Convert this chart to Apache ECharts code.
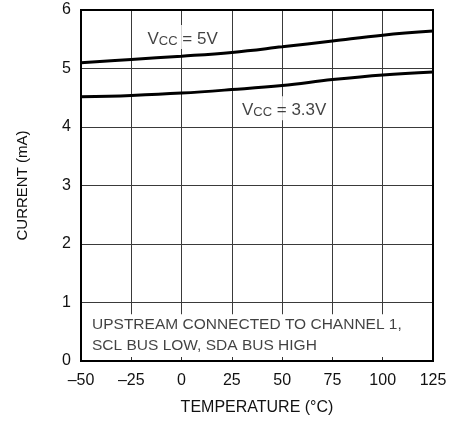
<!DOCTYPE html>
<html><head><meta charset="utf-8">
<script src="https://cdn.jsdelivr.net/npm/echarts@6/dist/echarts.min.js"></script>
<style>html,body{margin:0;padding:0;background:#fff}#c{width:462px;height:425px}</style>
</head><body><div id="c"></div>
<script>
const temps = [-50, -25, 0, 25, 50, 75, 100, 125];
const i5v = [5.10, 5.155, 5.21, 5.275, 5.37, 5.47, 5.57, 5.64];
const i33v = [4.515, 4.54, 4.58, 4.64, 4.71, 4.81, 4.89, 4.94];
const xTicks = ['–50', '–25', '0', '25', '50', '75', '100', '125'];
const yTicks = ['0', '1', '2', '3', '4', '5', '6'];
const label5 = { x: 0.5, y: 5.54, text: '{v|V}{s|CC}{v| = 5V}' };
const label33 = { x: 51, y: 4.32, text: '{v|V}{s|CC}{v| = 3.3V}' };
const noteLines = ['UPSTREAM CONNECTED TO CHANNEL 1,', 'SCL BUS LOW, SDA BUS HIGH'];
const noteBand = [0.07, 0.8];

const FONT = '"Liberation Sans Narrow", "Liberation Sans", Arial, sans-serif';
const rich = {
  v: { fontSize: 17, lineHeight: 22, verticalAlign: 'bottom', fontFamily: FONT, color: '#111' },
  s: { fontSize: 13, lineHeight: 14, verticalAlign: 'bottom', fontFamily: FONT, color: '#111' }
};
function pairs(xs, ys) { return xs.map((x, i) => [x, ys[i]]); }

const chart = echarts.init(document.getElementById('c'));
chart.setOption({
  animation: false,
  grid: { left: 81, right: 29, top: 10, bottom: 64, show: true, borderColor: '#000', borderWidth: 2, z: 3 },
  xAxis: {
    type: 'value', min: -50, max: 125, interval: 25,
    name: 'TEMPERATURE (°C)', nameLocation: 'middle', nameGap: 39,
    nameTextStyle: { fontFamily: FONT, fontSize: 16, color: '#111' },
    axisLine: { show: false },
    axisTick: { show: true, inside: true, length: 4, lineStyle: { color: '#333', width: 1 } },
    axisLabel: { fontFamily: FONT, fontSize: 16, color: '#111', margin: 12,
      formatter: v => xTicks[temps.indexOf(v)] },
    splitLine: { show: true, lineStyle: { color: '#3a3a3a', width: 1 } }
  },
  yAxis: {
    type: 'value', min: 0, max: 6, interval: 1,
    name: 'CURRENT (mA)', nameLocation: 'middle', nameGap: 51,
    nameTextStyle: { fontFamily: FONT, fontSize: 15, color: '#111' },
    axisLine: { show: false }, axisTick: { show: false },
    axisLabel: { fontFamily: FONT, fontSize: 16, color: '#111', margin: 10,
      formatter: v => yTicks[v] },
    splitLine: { show: true, lineStyle: { color: '#3a3a3a', width: 1 } }
  },
  series: [
    { type: 'line', data: pairs(temps, i5v), smooth: 0.4, symbol: 'none',
      lineStyle: { color: '#000', width: 3 }, z: 2 },
    { type: 'line', data: pairs(temps, i33v), smooth: 0.4, symbol: 'none',
      lineStyle: { color: '#000', width: 3 }, z: 2,
      markArea: { silent: true, itemStyle: { color: '#fff', opacity: 1 },
        label: { show: false },
        data: [[{ xAxis: -50, yAxis: noteBand[0] }, { xAxis: 125, yAxis: noteBand[1] }]] } },
    { type: 'scatter', symbolSize: 0, z: 4,
      data: [
        { value: [label5.x, label5.y], label: { formatter: label5.text } },
        { value: [label33.x, label33.y], label: { formatter: label33.text } }
      ],
      label: { show: true, position: 'inside', backgroundColor: '#fff', padding: [1, 3, 1, 3], rich: rich } },
    { type: 'scatter', symbolSize: 0, z: 4,
      data: [{ value: [-47, 0.44] }],
      label: { show: true, position: 'right', align: 'left', fontFamily: FONT, fontSize: 15.5, lineHeight: 21,
        color: '#111', formatter: noteLines.join('\n') } }
  ]
});
</script></body></html>
